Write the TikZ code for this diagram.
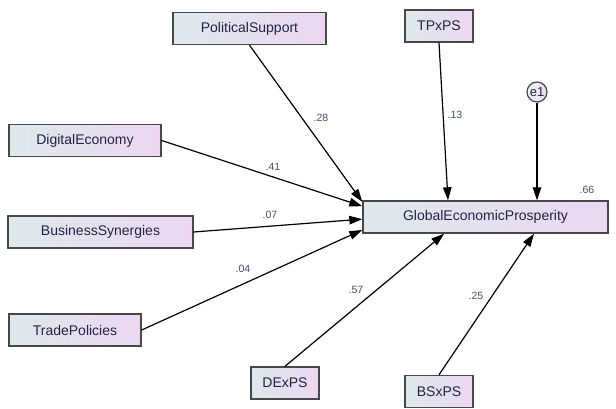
\documentclass[tikz,border=0pt]{standalone}
\usepackage{fontspec}
\setmainfont{Liberation Sans}
\usepackage{xcolor}
\usetikzlibrary{shapes,arrows.meta,positioning}

\definecolor{boxleft}{RGB}{222,233,236}
\definecolor{boxright}{RGB}{236,215,241}
\definecolor{boxline}{RGB}{72,72,72}
\definecolor{boxtext}{RGB}{34,36,66}
\definecolor{wtext}{RGB}{66,76,106}

\tikzset{
  var/.style={draw=boxline, line width=1.4pt, left color=boxleft, right color=boxright,
    minimum height=32pt, inner sep=0pt, text=boxtext, font=\fontsize{14}{16}\selectfont},
  err/.style={circle, draw=boxline, line width=1.2pt, left color=boxleft!40, right color=boxright,
    minimum size=20pt, inner sep=0pt, text=boxtext, font=\fontsize{13}{14}\selectfont},
  regarrow/.style={line width=1.2pt, -{Triangle[length=13pt,width=8.5pt]}},
  wt/.style={text=wtext, inner sep=0pt, font=\fontsize{10.5}{12}\selectfont}
}

\begin{document}
\begin{tikzpicture}[x=1pt,y=-1pt]
\useasboundingbox (0,0) rectangle (616,409);

% observed variables
\node[var, minimum width=153pt] (ps) at (249.5,28.5) {PoliticalSupport};
\node[var, minimum width=152pt] (de) at (85,140.5) {DigitalEconomy};
\node[var, minimum width=185pt] (bs) at (100.5,232) {BusinessSynergies};
\node[var, minimum width=132pt] (tp) at (75,330) {TradePolicies};
\node[var, minimum width=68pt] (tpxps) at (439,26) {TPxPS};
\node[var, minimum width=68pt] (dexps) at (285,383) {DExPS};
\node[var, minimum width=68pt] (bsxps) at (439,391.5) {BSxPS};

% outcome
\node[var, minimum width=245pt] (gep) at (485.5,217) {GlobalEconomicProsperity};

% error term
\node[err] (e1) at (537,92) {e1};

% regression paths
\draw[regarrow] (ps.south) -- (gep.173);
\draw[regarrow] (de.east) -- (gep.175.3);
\draw[regarrow] (bs.east) -- (gep.181.4);
\draw[regarrow] (tp.east) -- (gep.186.5);
\draw[regarrow] (tpxps.south) -- (gep.156.9);
\draw[regarrow] (dexps.north) -- (gep.202.6);
\draw[regarrow] (bsxps.north) -- (gep.341);
\draw[regarrow] (e1.south) -- (e1.south |- gep.north);

% estimates
\node[wt] (wps) at (321,118) {.28};
\node[wt] (wtp) at (455,115) {.13};
\node[wt] (wde) at (273,167) {.41};
\node[wt] (wbs) at (270,215) {.07};
\node[wt] (wtr) at (243,269) {.04};
\node[wt] (wdx) at (356,290) {.57};
\node[wt] (wbx) at (476,296) {.25};
\node[wt] (rsq) at (587,190) {.66};
\end{tikzpicture}
\end{document}
